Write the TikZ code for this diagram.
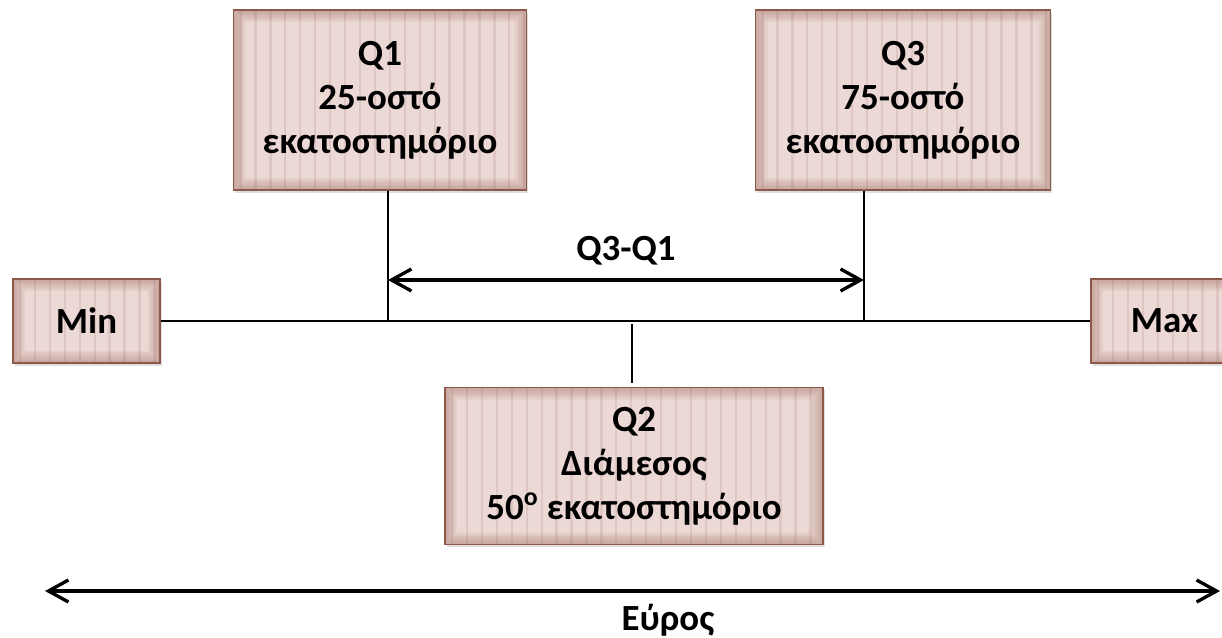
\documentclass[tikz,border=0pt]{standalone}
\usepackage{fontspec}
\setmainfont{Carlito}
\usetikzlibrary{arrows.meta,shadows}
\definecolor{boxpink}{RGB}{236,216,212}
\definecolor{boxstripe}{RGB}{222,198,194}
\definecolor{boxbrown}{RGB}{140,88,72}
\begin{document}
\begin{tikzpicture}[
x=0.02cm, y=-0.02cm,
every node/.style={font=\bfseries\fontsize{21}{25}\selectfont},
qbox/.style={
    rectangle,
    draw=boxbrown,
    line width=0.8pt,
    fill=boxpink,
    align=center,
    inner sep=0pt,
    drop shadow={opacity=0.25, shadow xshift=1pt, shadow yshift=-1.5pt},
    path picture={
        \foreach \i in {0,...,40}
            \draw[boxstripe, line width=1.3pt]
                ([xshift=\i*8.5pt+4pt]path picture bounding box.south west) -- ++(0,10cm);
        \foreach \w in {2,4,...,14}
            \draw[boxbrown, opacity=0.06, line width=\w pt]
                (path picture bounding box.south west) rectangle (path picture bounding box.north east);
    }
},
tick/.style={line width=0.9pt},
span/.style={line width=1.9pt, line cap=round, {Straight Barb[length=4mm,width=4.4mm,line width=1.9pt]}-{Straight Barb[length=4mm,width=4.4mm,line width=1.9pt]}}
]
\useasboundingbox (0,0) rectangle (1222,637);

%---------------- Boxes ----------------
\node[qbox, minimum width=293*0.02cm, minimum height=180*0.02cm] (q1) at (380,100) {Q1\\25-οστό\\εκατοστημόριο};
\node[qbox, minimum width=295*0.02cm, minimum height=180*0.02cm] (q3) at (903,100) {Q3\\75-οστό\\εκατοστημόριο};
\node[qbox, minimum width=378*0.02cm, minimum height=157*0.02cm] (q2) at (634,466) {Q2\\Διάμεσος\\50\textsuperscript{ο} εκατοστημόριο};
\node[qbox, minimum width=147*0.02cm, minimum height=84*0.02cm] (min) at (86.5,321) {Min};
\node[qbox, minimum width=147*0.02cm, minimum height=84*0.02cm] (max) at (1164.5,321) {Max};

%---------------- Lines ----------------
\coordinate (q1foot) at (388,320);
\coordinate (q3foot) at (864,320);
\coordinate (q2top) at (632,324);
\coordinate (q2bot) at (632,383);

\draw[line width=1.1pt] (min.east) -- (max.west);
\draw[tick] (q1.south -| q1foot) -- (q1foot);
\draw[tick] (q3.south -| q3foot) -- (q3foot);
\draw[tick] (q2top) -- (q2bot);

%---------------- Spans ----------------
\coordinate (iqrL) at (388,280);
\coordinate (iqrR) at (864,280);
\draw[span] (iqrL) -- (iqrR);
\node (iqr) at (626,251) {Q3-Q1};

\coordinate (rangeL) at (45,591);
\coordinate (rangeR) at (1220,591);
\draw[span] (rangeL) -- (rangeR);
\node (range) at (668,620) {Εύρος};

\end{tikzpicture}
\end{document}
